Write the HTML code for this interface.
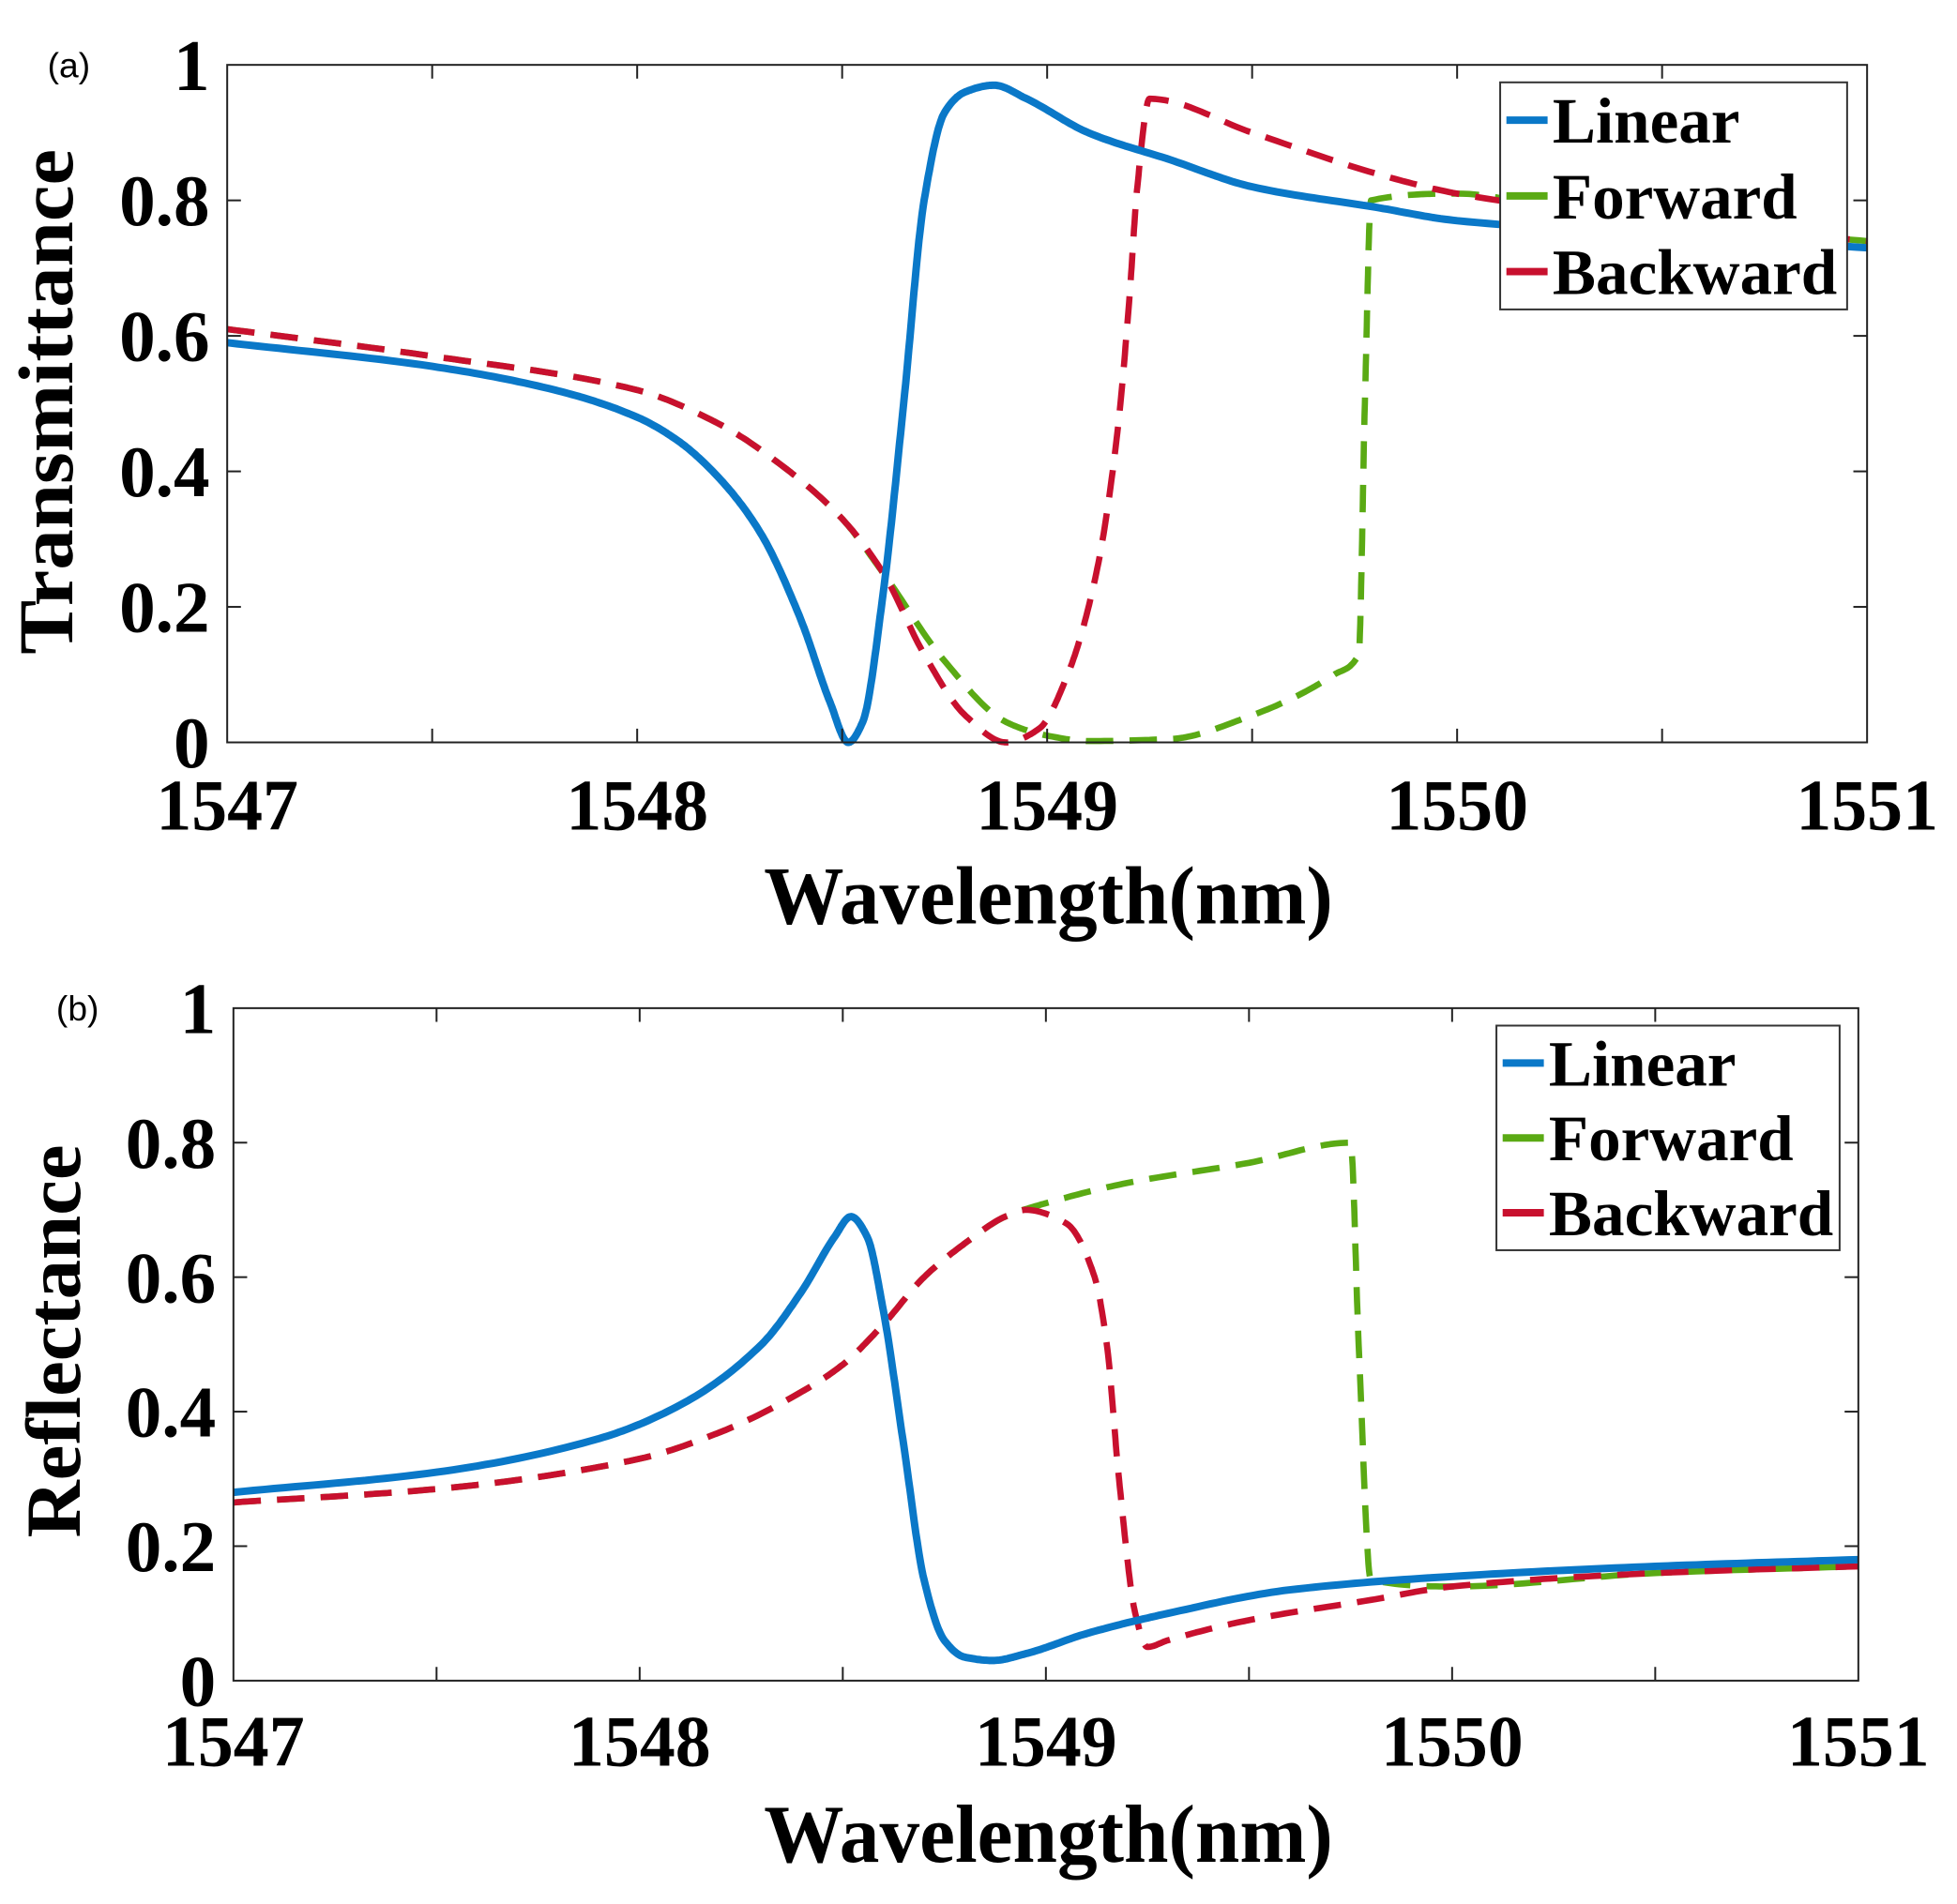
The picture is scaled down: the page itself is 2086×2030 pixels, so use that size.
<!DOCTYPE html>
<html><head><meta charset="utf-8"><style>html,body{margin:0;padding:0;background:#fff}svg{display:block}</style></head>
<body>
<svg id="s" width="2086" height="2030" viewBox="0 0 1568 1526" xmlns="http://www.w3.org/2000/svg" font-family="Liberation Serif, serif" font-weight="bold">
<rect width="1568" height="1526" fill="#fff"/>
<g id="ga"></g><g id="gb"></g>
</svg>
<script>
const NS="http://www.w3.org/2000/svg";
function el(p,t,a,txt){const e=document.createElementNS(NS,t);for(const k in a)e.setAttribute(k,a[k]);if(txt!==undefined)e.textContent=txt;p.appendChild(e);return e;}
function mono(pts){const n=pts.length,xs=pts.map(p=>p[0]),ys=pts.map(p=>p[1]);
 const dx=[],m=[];for(let i=0;i<n-1;i++){dx.push(xs[i+1]-xs[i]);m.push((ys[i+1]-ys[i])/dx[i]);}
 const t=[m[0]];for(let i=1;i<n-1;i++){if(m[i-1]*m[i]<=0)t.push(0);else{const w1=2*dx[i]+dx[i-1],w2=dx[i]+2*dx[i-1];t.push((w1+w2)/(w1/m[i-1]+w2/m[i]));}}t.push(m[n-2]);
 const out=[];for(let i=0;i<n-1;i++){const N=20;for(let k=0;k<N;k++){const s=k/N,h=dx[i];
  const h00=2*s*s*s-3*s*s+1,h10=s*s*s-2*s*s+s,h01=-2*s*s*s+3*s*s,h11=s*s*s-s*s;
  out.push([xs[i]+s*h,h00*ys[i]+h10*h*t[i]+h01*ys[i+1]+h11*h*t[i+1]]);}}
 out.push([xs[n-1],ys[n-1]]);return out;}
function panel(g,L,R,T,B,ylab,labTxt,labX,labY,xlBase,xtBase,ylX,ylY,ylLen,leg,series){
 const sx=(R-L)/4,sy=(B-T);
 const X=x=>L+x*sx,Y=y=>B-y*sy;
 series.forEach(s=>{const pts=mono(s.d).map(p=>[X(p[0]),Y(p[1])]);
  const a={d:"M"+pts.map(p=>p[0].toFixed(1)+","+p[1].toFixed(1)).join(" L"),fill:"none",stroke:s.c,"stroke-width":s.w,"stroke-linejoin":"round"};
  if(s.dash)a["stroke-dasharray"]="22 13";el(g,"path",a);});
 el(g,"rect",{x:L,y:T,width:R-L,height:B-T,fill:"none",stroke:"#222","stroke-width":1.5});
 for(let i=1;i<8;i++){const x=L+i*sx/2;el(g,"line",{x1:x,y1:B,x2:x,y2:B-11,stroke:"#222","stroke-width":1.5});el(g,"line",{x1:x,y1:T,x2:x,y2:T+11,stroke:"#222","stroke-width":1.5});}
 for(let i=1;i<5;i++){const y=B-i*0.2*sy;el(g,"line",{x1:L,y1:y,x2:L+11,y2:y,stroke:"#222","stroke-width":1.5});el(g,"line",{x1:R,y1:y,x2:R-11,y2:y,stroke:"#222","stroke-width":1.5});}
 const yl=["0","0.2","0.4","0.6","0.8","1"];
 yl.forEach((t,i)=>el(g,"text",{x:L-14,y:B-i*0.2*sy+20,"text-anchor":"end","font-size":58},t));
 for(let i=0;i<5;i++)el(g,"text",{x:L+i*sx,y:xtBase,"text-anchor":"middle","font-size":58,textLength:114,lengthAdjust:"spacingAndGlyphs"},String(1547+i));
 el(g,"text",{x:840,y:xlBase,"text-anchor":"middle","font-size":66,textLength:456,lengthAdjust:"spacingAndGlyphs"},"Wavelength(nm)");
 el(g,"text",{x:0,y:0,"text-anchor":"middle","font-size":62,textLength:ylLen,lengthAdjust:"spacingAndGlyphs",transform:`translate(${ylX},${ylY}) rotate(-90)`},ylab);
 el(g,"text",{x:labX,y:labY,"font-size":28,"font-family":"Liberation Sans, sans-serif","font-weight":"normal"},labTxt);
 el(g,"rect",{x:leg[0],y:leg[1],width:leg[2]-leg[0],height:leg[3]-leg[1],fill:"#fff",stroke:"#333","stroke-width":1.5});
 const names=[["Linear","#0a78c8",150],["Forward","#5aaa14",196],["Backward","#c8102e",228]];
 const h=(leg[3]-leg[1])/3;
 names.forEach((n,i)=>{const y=leg[1]+h*(i+0.5);
  el(g,"line",{x1:leg[0]+5,y1:y,x2:leg[0]+38,y2:y,stroke:n[1],"stroke-width":6});
  el(g,"text",{x:leg[0]+42,y:y+18,"font-size":52,textLength:n[2],lengthAdjust:"spacingAndGlyphs"},n[0]);});
}
const blue="#0a78c8",green="#5aaa14",red="#c8102e";
const aLin=[[0,.59],[.5,.555],[.8,.52],[1,.48],[1.1,.445],[1.2,.39],[1.3,.31],[1.4,.18],[1.47,.06],[1.515,0],[1.55,.03],[1.6,.22],[1.65,.5],[1.7,.8],[1.75,.93],[1.8,.96],[1.87,.97],[1.95,.95],[2.1,.9],[2.3,.86],[2.5,.82],[2.8,.79],[3.0,.77],[3.5,.75],[4,.73]];
const aFw=[[0,.61],[.5,.57],[1,.52],[1.2,.47],[1.35,.41],[1.5,.33],[1.6,.25],[1.75,.12],[1.9,.03],[2.0,.01],[2.1,.002],[2.3,.005],[2.5,.04],[2.7,.1],[2.76,.13],[2.775,.5],[2.79,.8],[3.0,.81],[3.3,.78],[3.6,.76],[4,.74]];
const aBw=[[0,.61],[.5,.57],[1,.52],[1.2,.47],[1.35,.41],[1.5,.33],[1.6,.25],[1.7,.13],[1.8,.04],[1.9,0],[1.98,.02],[2.05,.1],[2.12,.25],[2.17,.45],[2.2,.65],[2.22,.82],[2.25,.95],[2.5,.9],[2.8,.84],[3.0,.81],[3.5,.77],[4,.74]];
const bLin=[[0,.28],[.5,.31],[.9,.36],[1.1,.41],[1.3,.5],[1.4,.58],[1.48,.66],[1.52,.69],[1.56,.66],[1.6,.55],[1.65,.35],[1.7,.15],[1.75,.06],[1.8,.035],[1.87,.03],[1.95,.04],[2.1,.07],[2.3,.1],[2.6,.135],[3.0,.155],[3.5,.17],[4,.18]];
const bFw=[[0,.265],[.5,.285],[1,.33],[1.2,.37],[1.4,.43],[1.5,.47],[1.6,.53],[1.7,.6],[1.8,.65],[1.9,.69],[2.0,.71],[2.2,.74],[2.5,.77],[2.75,.8],[2.77,.5],[2.8,.15],[3.0,.14],[3.5,.16],[4,.17]];
const bBw=[[0,.265],[.5,.285],[1,.33],[1.2,.37],[1.4,.43],[1.5,.47],[1.6,.53],[1.7,.6],[1.8,.65],[1.9,.69],[1.95,.7],[2.05,.68],[2.12,.6],[2.15,.5],[2.18,.3],[2.22,.1],[2.25,.05],[2.3,.06],[2.5,.09],[2.8,.12],[3.0,.14],[3.5,.16],[4,.17]];
panel(document.getElementById("ga"),182,1496,52,595,"Transmittance","(a)",38,62,740,665,58,322,405,[1202,66,1480,248],
 [{d:aFw,c:green,w:5,dash:1},{d:aBw,c:red,w:5,dash:1},{d:aLin,c:blue,w:6}]);
panel(document.getElementById("gb"),187,1489,808,1347,"Reflectance","(b)",45,818,1492,1415,64,1075,315,[1199,822,1474,1002],
 [{d:bFw,c:green,w:5,dash:1},{d:bBw,c:red,w:5,dash:1},{d:bLin,c:blue,w:6}]);
</script>
</body></html>
